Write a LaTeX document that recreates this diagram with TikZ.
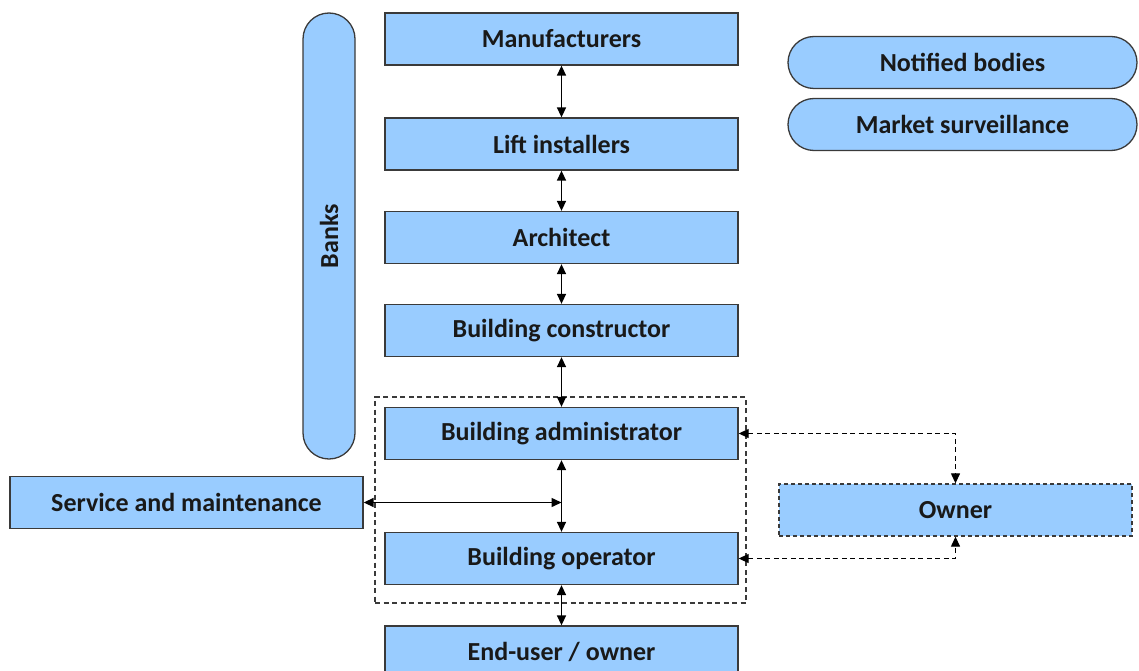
\documentclass[tikz,border=0pt]{standalone}
\usepackage{fontspec}
\setmainfont{Carlito}
\usetikzlibrary{arrows.meta,positioning}
\definecolor{boxfill}{HTML}{99CCFF}
\definecolor{boxline}{HTML}{3A3A3A}
\begin{document}
\begin{tikzpicture}[x=1pt,y=-1pt,
  every node/.style={font=\fontsize{26}{30}\selectfont\bfseries, text=black!90},
  block/.style={draw=boxline, line width=1.3pt, fill=boxfill, minimum width=353pt, minimum height=52pt, inner sep=0pt},
  pill/.style={block, rounded corners=26pt},
  dashblock/.style={block, dash pattern=on 4pt off 3pt},
  tip/.tip={Triangle[length=10pt,width=9pt]},
  link/.style={line width=1.5pt, tip-tip},
  dlink/.style={line width=1.2pt, dash pattern=on 5pt off 3.5pt, tip-tip},
  group/.style={draw=boxline, line width=1.2pt, dash pattern=on 5pt off 3.5pt}]
  \useasboundingbox (0,0) rectangle (1139,671);
  \begin{scope}
  \clip (0,0) rectangle (1139,671);
  % main chain
  \node[block] (man) at (561.5,39) {Manufacturers};
  \node[block] (lift) at (561.5,144) {Lift installers};
  \node[block] (arch) at (561.5,237.5) {Architect};
  \node[block] (cons) at (561.5,330.5) {Building constructor};
  \node[block] (adm) at (561.5,433.5) {Building administrator};
  \node[block] (oper) at (561.5,558.5) {Building operator};
  \node[block] (end) at (561.5,652) {End-user / owner};
  % group around administrator and operator
  \node[group, minimum width=371pt, minimum height=206pt, inner sep=0pt] (grp) at (560.5,500) {};
  % side parties
  \node[pill, minimum width=52pt, minimum height=446pt] (banks) at (329,236) {};
  \node[rotate=90] (bankstext) at (banks.center) {Banks};
  \node[pill, minimum width=349pt] (nb) at (962.5,62.5) {Notified bodies};
  \node[pill, minimum width=349pt] (ms) at (962.5,124.5) {Market surveillance};
  \node[block] (serv) at (186.5,502.5) {Service and maintenance};
  \node[dashblock] (own) at (955.5,510) {Owner};
  % connectors
  \draw[link] (man) -- (lift);
  \draw[link] (lift) -- (arch);
  \draw[link] (arch) -- (cons);
  \draw[link] (cons) -- (adm);
  \draw[link] (adm) -- (oper);
  \draw[link] (oper) -- (end);
  \coordinate (mid) at (adm.south |- serv.east);
  \draw[link] (serv.east) -- (mid);
  \draw[dlink] (adm.east) -| (own.north);
  \draw[dlink] (oper.east) -| (own.south);
  \end{scope}
\end{tikzpicture}
\end{document}
